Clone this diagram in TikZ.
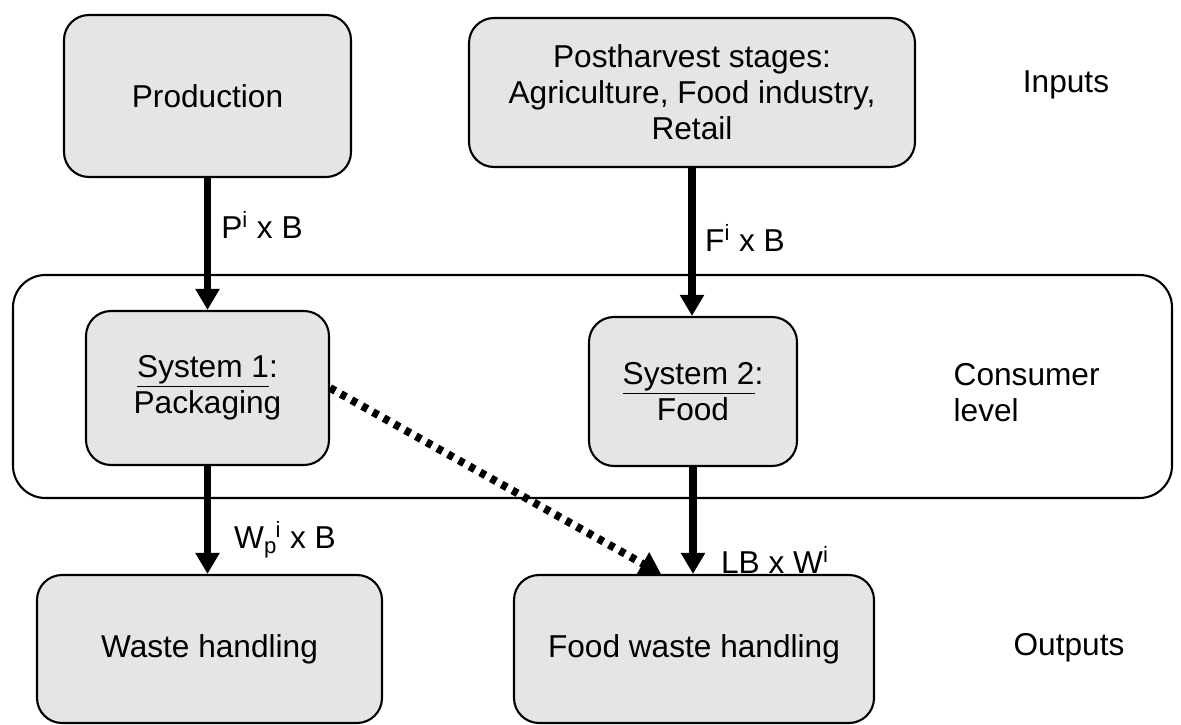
\documentclass[tikz,border=0pt]{standalone}
\usepackage{fontspec}
\setmainfont{Liberation Sans}
\usepackage{tikz}
\usetikzlibrary{arrows.meta}
\tikzset{
    stage-box/.style = {draw=black, fill=gray!20, line width=1.2pt, rectangle, rounded corners=0.5cm, align=center, inner sep=0pt},
    level-box/.style = {draw=black, fill=white, line width=1.2pt, rectangle, rounded corners=0.65cm, inner sep=0pt},
    flow-arrow/.style = {line width=4.5pt, -{Triangle[width=0.46cm,length=0.42cm]}},
    loss-arrow/.style = {line width=4.5pt, dash pattern=on 3.4pt off 3.6pt, -{Triangle[width=0.5cm,length=0.42cm]}},
    side-label/.style = {align=left},
}

\begin{document}
\begin{tikzpicture}[font=\fontsize{18}{20.5}\selectfont]
\useasboundingbox (0,0) rectangle (23.62,-14.5);
\node [level-box, minimum width=23.18cm, minimum height=4.46cm] (consumer) at (11.85,-7.73) {};

\node [stage-box, minimum width=5.74cm, minimum height=3.24cm] (prod) at (4.15,-1.92) {Production};
\node [stage-box, minimum width=8.92cm, minimum height=2.98cm] (post) at (13.84,-1.85) {Postharvest stages:\\Agriculture, Food industry,\\Retail};
\node [stage-box, minimum width=4.86cm, minimum height=3.08cm] (sys1) at (4.15,-7.76) {\underline{System 1}:\\Packaging};
\node [stage-box, minimum width=4.16cm, minimum height=2.98cm] (sys2) at (13.86,-7.83) {\underline{System 2}:\\Food};
\node [stage-box, minimum width=6.9cm, minimum height=2.96cm] (waste) at (4.19,-12.98) {Waste handling};
\node [stage-box, minimum width=7.2cm, minimum height=2.96cm] (fwaste) at (13.88,-12.98) {Food waste handling};

\node (inputs) at (21.32,-1.7) {Inputs};
\node [side-label, anchor=west] (level) at (18.95,-7.86) {Consumer\\level};
\node (outputs) at (21.38,-12.96) {Outputs};

% flows between the stages
\draw [flow-arrow] (prod.south) -- (sys1.north);
\draw [flow-arrow] (post.south) -- (post.south |- sys2.north);
\draw [flow-arrow] (sys1.south) -- (sys1.south |- waste.north);
\draw [flow-arrow] (sys2.south) -- (sys2.south |- fwaste.north);
\coordinate (lossend) at ([xshift=-0.66cm]fwaste.north);
\draw [loss-arrow] (sys1.east) -- (lossend);

\node (plabel) at (5.24,-4.5) {P\textsuperscript{i} x B};
\node (flabel) at (14.9,-4.76) {F\textsuperscript{i} x B};
\node (wlabel) at (5.7,-10.8) {W\textsubscript{p}\kern-1pt\textsuperscript{i} x B};
\node (llabel) at (15.5,-11.2) {LB x W\textsuperscript{i}};
\end{tikzpicture}
\end{document}
